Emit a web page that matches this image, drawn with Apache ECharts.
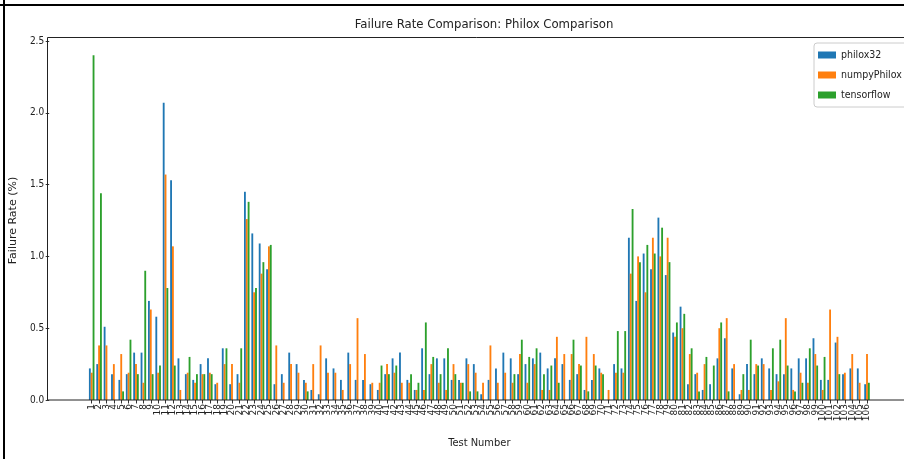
<!DOCTYPE html>
<html><head><meta charset="utf-8">
<script src="https://cdn.jsdelivr.net/npm/echarts@6/dist/echarts.min.js"></script>
<style>html,body{margin:0;padding:0;background:#fff}#c{width:904px;height:459px}</style>
</head><body><div id="c"></div>
<script>
const categories = ['1','2','3','4','5','6','7','8','9','10','11','12','13','14','15','16','17','18','19','20','21','22','23','24','25','26','27','28','29','30','31','32','33','34','35','36','37','38','39','40','41','42','43','44','45','46','47','48','49','50','51','52','53','54','55','56','57','58','59','60','61','62','63','64','65','66','67','68','69','70','71','72','73','74','75','76','77','78','79','80','81','82','83','84','85','86','87','88','89','90','91','92','93','94','95','96','97','98','99','100','101','102','103','104','105','106'];
const philox32 = [0.22,0.25,0.51,0.18,0.14,0.18,0.33,0.33,0.69,0.58,2.07,1.53,0.29,0.18,0.14,0.25,0.29,0.11,0.36,0.11,0.18,1.45,1.16,1.09,0.91,0.11,0.18,0.33,0.25,0.14,0.07,0.04,0.29,0.22,0.14,0.33,0.14,0.14,0.11,0.07,0.18,0.29,0.33,0.14,0.07,0.36,0.18,0.29,0.29,0.14,0.14,0.29,0.25,0.04,0.14,0.22,0.33,0.29,0.18,0.25,0.29,0.33,0.22,0.29,0.25,0.14,0.18,0.07,0.14,0.22,0,0.25,0.22,1.13,0.69,1.02,0.91,1.27,0.87,0.47,0.65,0.11,0.18,0.07,0.11,0.29,0.43,0.22,0.04,0.25,0.18,0.29,0.22,0.18,0.18,0.22,0.29,0.29,0.43,0.14,0.14,0.40,0.18,0.22,0.22,0.11];
const numpyPhilox = [0.19,0.38,0.38,0.25,0.32,0.19,0.25,0.12,0.63,0.19,1.57,1.07,0.07,0.19,0.12,0.18,0.19,0.12,0.25,0.25,0.12,1.26,0.75,0.88,1.07,0.38,0.12,0.25,0.19,0.12,0.25,0.38,0.19,0.19,0.07,0.25,0.57,0.32,0.12,0.12,0.25,0.19,0.12,0.12,0.07,0.07,0.25,0.12,0.07,0.25,0.12,0.25,0.19,0.12,0.38,0.12,0.19,0.12,0.32,0.12,0.25,0.07,0.07,0.44,0.32,0.32,0.25,0.44,0.32,0.19,0.07,0.19,0.19,0.88,1.00,0.75,1.13,1.00,1.13,0.44,0.50,0.32,0.19,0.25,0,0.50,0.57,0.25,0.07,0.07,0.25,0.25,0.07,0.13,0.57,0.07,0.19,0.12,0.32,0.07,0.63,0.44,0.19,0.32,0.12,0.32];
const tensorflow = [2.40,1.44,0,0,0.06,0.42,0.18,0.90,0.18,0.24,0.78,0.24,0,0.30,0.18,0.18,0.18,0,0.36,0,0.36,1.38,0.78,0.96,1.08,0,0,0,0,0.06,0,0,0,0,0,0,0,0,0,0.24,0.18,0.24,0,0.18,0.12,0.54,0.30,0.18,0.36,0.18,0.12,0.06,0.06,0,0,0,0,0.18,0.42,0.30,0.36,0.18,0.24,0.12,0,0.42,0.24,0.06,0.24,0.18,0,0.48,0.48,1.33,0.96,1.08,1.02,1.20,0.96,0.54,0.60,0.36,0.06,0.30,0.24,0.54,0.06,0,0.18,0.42,0.24,0,0.36,0.42,0.24,0.06,0.12,0.36,0.24,0.30,0,0.18,0,0,0,0.12];
const seriesNames = ['philox32','numpyPhilox','tensorflow'];
const seriesColors = ['#1f77b4','#ff7f0e','#2ca02c'];
const yTicks = [0.0,0.5,1.0,1.5,2.0,2.5];
const titleText = 'Failure Rate Comparison: Philox Comparison';
const xName = 'Test Number';
const yName = 'Failure Rate (%)';

const FONT = "'DejaVu Sans Condensed','Liberation Sans Narrow','DejaVu Sans',sans-serif";
const FONT_R = "'DejaVu Sans',sans-serif";
const chart = echarts.init(document.getElementById('c'), null, {renderer:'canvas'});
const gridLeft = 86.3, gridWidth = 784.4;
const allData = [philox32, numpyPhilox, tensorflow];
chart.setOption({
  animation: false,
  backgroundColor: '#fff',
  textStyle: {fontFamily: FONT},
  title: {text: titleText, left: 479, top: 13, textAlign: 'center',
    textStyle: {fontFamily: FONT, fontSize: 13, fontWeight: 'normal', color: '#222'}},
  legend: {data: seriesNames, orient: 'vertical', left: 814, top: 43,
    itemWidth: 18, itemHeight: 7, itemGap: 8, icon: 'rect',
    borderColor: '#ccc', borderWidth: 1, borderRadius: 3, padding: [6, 10, 6, 4],
    backgroundColor: '#fff',
    textStyle: {fontFamily: FONT, fontSize: 10.5, color: '#222', lineHeight: 12}},
  grid: {left: gridLeft, width: gridWidth, top: 41, bottom: 59, containLabel: false},
  xAxis: {type: 'category', data: categories,
    name: xName, nameLocation: 'middle', nameGap: 38,
    nameTextStyle: {fontFamily: FONT, fontSize: 11, color: '#222'},
    axisLine: {show: false},
    axisTick: {show: true, alignWithLabel: true, interval: 0, length: 3.5, lineStyle: {color: '#333'}},
    axisLabel: {interval: 0, rotate: 90, fontSize: 9, color: '#222', margin: 4, fontFamily: FONT_R},
    splitLine: {show: false}},
  yAxis: {type: 'value', min: 0, max: 2.5, interval: 0.5, offset: gridLeft - 47.5,
    name: yName, nameLocation: 'middle', nameGap: 17,
    nameTextStyle: {fontFamily: FONT_R, fontSize: 11, color: '#222'},
    axisLine: {show: false},
    axisTick: {show: true, length: 3.5, lineStyle: {color: '#333'}},
    axisLabel: {fontSize: 10, color: '#222', margin: 5, fontFamily: FONT,
      formatter: v => yTicks.some(t => Math.abs(t - v) < 1e-9) ? v.toFixed(1) : ''},
    splitLine: {show: false}},
  series: seriesNames.map((n, i) => ({
    name: n, type: 'bar', data: allData[i], barWidth: 1.85, barGap: '0%',
    itemStyle: {color: seriesColors[i]}, emphasis: {disabled: true}})),
  graphic: [
    {type: 'rect', z: 100, silent: true, shape: {x: 47.5, y: 37.5, width: 900, height: 362.5},
      style: {fill: 'none', stroke: '#222', lineWidth: 1}},
    {type: 'line', z: 100, silent: true, shape: {x1: 4, y1: 0, x2: 4, y2: 459}, style: {stroke: '#000', lineWidth: 2}},
    {type: 'line', z: 100, silent: true, shape: {x1: 0, y1: 5, x2: 904, y2: 5}, style: {stroke: '#000', lineWidth: 2}}
  ]
});
</script></body></html>
